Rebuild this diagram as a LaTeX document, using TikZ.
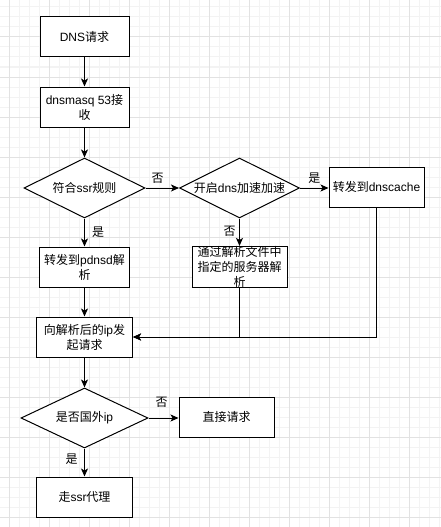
\documentclass[tikz,border=0pt]{standalone}
\usepackage{fontspec}
\setmainfont{Liberation Sans}
\newfontfamily\cjk{Noto Sans CJK SC}
\usepackage{tikz}
\usetikzlibrary{shapes.geometric}
\usetikzlibrary{arrows.meta}
\tikzset{>={Stealth[length=8pt,width=7pt,inset=2pt]}}
\definecolor{gridminor}{HTML}{F3F3F3}
\definecolor{gridmajor}{HTML}{E2E2E2}
\newcommand{\zh}[1]{{\cjk #1}}

\begin{document}
\begin{tikzpicture}[x=1pt,y=-1pt,
		box/.style={draw, fill=white, line width=1pt, minimum height=40pt, inner sep=0pt, align=center, font=\fontsize{12}{15}\selectfont},
		decision/.style={diamond, aspect=2, draw, fill=white, line width=1pt, minimum height=60pt, inner sep=0pt, font=\fontsize{12}{15}\selectfont},
		lbl/.style={inner sep=0pt, font=\fontsize{12}{15}\selectfont},
		flow/.style={->, line width=1pt}]
				\useasboundingbox (0,0) rectangle (441,527);
				
				% background grid
				\foreach \x in {9,19,...,439} \draw[gridminor, line width=1pt] (\x,0) -- (\x,527);
				\foreach \y in {7,17,...,527} \draw[gridminor, line width=1pt] (0,\y) -- (441,\y);
				\foreach \x in {9,49,...,409} \draw[gridmajor, line width=1pt] (\x,0) -- (\x,527);
				\foreach \y in {37,77,...,517} \draw[gridmajor, line width=1pt] (0,\y) -- (441,\y);
				
				\node[box, minimum width=89pt] (dns) at (84.5,37) {DNS\zh{请求}};
				\node[box, minimum width=89pt] (dnsmasq) at (84.5,107) {dnsmasq 53\zh{接}\\\zh{收}};
				\node[decision, minimum width=121pt] (ssr) at (84.5,188) {\zh{符合}ssr\zh{规则}};
				\node[decision, minimum width=120pt] (speed) at (239.5,188) {\zh{开启}dns\zh{加速加速}};
				\node[box, minimum width=95pt] (dnscache) at (376.5,187) {\zh{转发到}dnscache};
				\node[box, minimum width=90pt] (pdnsd) at (84.5,267) {\zh{转发到}pdnsd\zh{解}\\\zh{析}};
				\node[box, minimum width=95pt] (resolv) at (239.5,267) {\zh{通过解析文件中}\\\zh{指定的服务器解}\\\zh{析}};
				\node[box, minimum width=96pt] (request) at (84.5,337) {\zh{向解析后的}ip\zh{发}\\\zh{起请求}};
				\node[decision, minimum width=127pt] (foreign) at (84.5,418) {\zh{是否国外}ip};
				\node[box, minimum width=95pt] (direct) at (226.5,417) {\zh{直接请求}};
				\node[box, minimum width=96pt] (proxy) at (84.5,497) {\zh{走}ssr\zh{代理}};
				
				\draw[flow] (dns) -- (dnsmasq);
				\draw[flow] (dnsmasq) -- (ssr);
				\draw[flow] (ssr.east) -- (speed.west) node[lbl, pos=0.36, above=4pt] {\zh{否}};
				\draw[flow] (speed.east) -- (dnscache.west |- speed.east) node[lbl, pos=0.5, above=4pt] {\zh{是}};
				\draw[flow] (ssr.south) -- (pdnsd.north) node[lbl, pos=0.5, right=7pt] {\zh{是}};
				\draw[flow] (speed.south) -- (resolv.north) node[lbl, pos=0.45, left=3.5pt] {\zh{否}};
				\draw[flow] (pdnsd) -- (request);
				
				% both branches join on the right side of the request box
				\draw[flow] (resolv.south) |- (request.east);
				\draw[flow] (dnscache.south) |- (request.east);
				
				\draw[flow] (request) -- (foreign);
				\draw[flow] (foreign.east) -- (direct.west |- foreign.east) node[lbl, pos=0.44, above=10pt] {\zh{否}};
				\draw[flow] (foreign.south) -- (proxy.north) node[lbl, pos=0.38, left=6.5pt] {\zh{是}};
			\end{tikzpicture}
\end{document}
